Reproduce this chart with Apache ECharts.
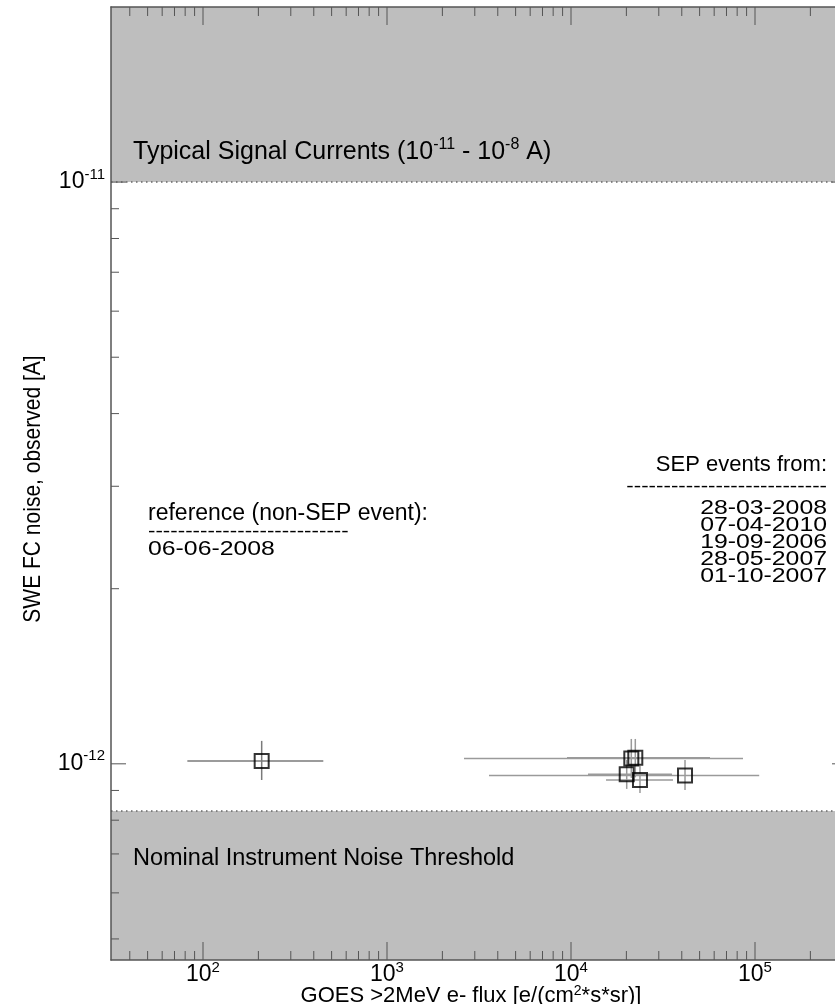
<!DOCTYPE html>
<html><head><meta charset="utf-8">
<script src="https://cdn.jsdelivr.net/npm/echarts@6/dist/echarts.min.js"></script>
<style>html,body{margin:0;padding:0;background:#fff;overflow:hidden}#c{width:870px;height:1004px}</style>
</head><body><div id="c"></div>
<script>
// ---- axis ranges & ticks ----
const xMin = Math.pow(10, 1.5), xMax = Math.pow(10, 5.5);
const yMin = 4.6e-13, yMax = 2e-11;
const xMajorTicks = [1e2, 1e3, 1e4, 1e5];
const xMinorTicks = [40,50,60,70,80,90, 200,300,400,500,600,700,800,900,
  2000,3000,4000,5000,6000,7000,8000,9000, 2e4,3e4,4e4,5e4,6e4,7e4,8e4,9e4, 2e5,3e5];
const yMajorTicks = [1e-12, 1e-11];
const yMinorTicks = [5e-13,6e-13,7e-13,8e-13,9e-13, 2e-12,3e-12,4e-12,5e-12,6e-12,7e-12,8e-12,9e-12];
// ---- shaded regions ----
const signalBand = [1e-11, 2e-11];
const noiseBand = [4.6e-13, 8.3e-13];
// ---- reference (non-SEP) point ----
const refDate = '06-06-2008';
const refFlux = [208.4], refNoise = [1.0115e-12];
const refFluxLo = [82.2], refFluxHi = [450.6];
const refNoiseLo = [9.38e-13], refNoiseHi = [1.095e-12];
// ---- SEP events ----
const sepDates = ['28-03-2008','07-04-2010','19-09-2006','28-05-2007','01-10-2007'];
const sepFlux = [21270, 22360, 20080, 23710, 41650];
const sepNoise = [1.0208e-12, 1.0248e-12, 9.597e-13, 9.383e-13, 9.544e-13];
const sepFluxLo = [2621, 9513, 12370, 15500, 3584];
const sepFluxHi = [86060, 56940, 35390, 35840, 105400];
const sepNoiseLo = [9.458e-13, 9.48e-13, 9.055e-13, 8.913e-13, 9.02e-13];
const sepNoiseHi = [1.1035e-12, 1.1035e-12, 1.0156e-12, 9.917e-13, 1.0156e-12];
// ---- titles ----
const xTitle = 'GOES >2MeV e- flux [e/(cm{s|2}*s*sr)]';
const yTitle = 'SWE FC noise, observed [A]';

const FONT = 'Liberation Sans, Arial, Helvetica, sans-serif';
const AX = '#555';

function supLabel(v) {
  const e = Math.log10(v);
  if (Math.abs(e - Math.round(e)) > 1e-6) return '';
  return '{b|10}{s|' + Math.round(e) + '}';
}
const labelRich = {
  b: {fontSize: 23, fontFamily: FONT, color: '#000', lineHeight: 30},
  s: {fontSize: 15, fontFamily: FONT, color: '#000', lineHeight: 14, verticalAlign: 'top'}
};

function xTickSeries(vals, len) {
  return {
    type: 'custom', z: 6, silent: true, xAxisIndex: 0, yAxisIndex: 0,
    data: vals.map(v => [v, yMin]), encode: {x: 0, y: 1},
    renderItem: (params, api) => {
      const cs = params.coordSys;
      const px = api.coord([api.value(0), yMin])[0];
      const st = {stroke: AX, lineWidth: 1};
      return {type: 'group', children: [
        {type: 'line', shape: {x1: px, y1: cs.y + cs.height, x2: px, y2: cs.y + cs.height - len}, style: st},
        {type: 'line', shape: {x1: px, y1: cs.y, x2: px, y2: cs.y + len}, style: st}
      ]};
    }
  };
}
function yTickSeries(vals, len) {
  return {
    type: 'custom', z: 6, silent: true, xAxisIndex: 0, yAxisIndex: 0,
    data: vals.map(v => [xMin, v]), encode: {x: 0, y: 1},
    renderItem: (params, api) => {
      const cs = params.coordSys;
      const py = api.coord([xMin, api.value(1)])[1];
      const st = {stroke: AX, lineWidth: 1};
      return {type: 'group', children: [
        {type: 'line', shape: {x1: cs.x, y1: py, x2: cs.x + len, y2: py}, style: st},
        {type: 'line', shape: {x1: cs.x + cs.width, y1: py, x2: cs.x + cs.width - len, y2: py}, style: st}
      ]};
    }
  };
}
function errSeries(x, y, xlo, xhi, ylo, yhi, color) {
  return {
    type: 'custom', z: 3, silent: true,
    data: x.map((v, i) => [v, y[i], xlo[i], xhi[i], ylo[i], yhi[i]]),
    encode: {x: 0, y: 1},
    renderItem: (params, api) => {
      const a = api.coord([api.value(2), api.value(1)]);
      const b = api.coord([api.value(3), api.value(1)]);
      const c = api.coord([api.value(0), api.value(4)]);
      const d = api.coord([api.value(0), api.value(5)]);
      const st = {stroke: color, lineWidth: 1.5};
      return {type: 'group', children: [
        {type: 'line', shape: {x1: a[0], y1: a[1], x2: b[0], y2: b[1]}, style: st},
        {type: 'line', shape: {x1: c[0], y1: c[1], x2: d[0], y2: d[1]}, style: st}
      ]};
    }
  };
}
const squareStyle = {color: 'rgba(0,0,0,0)', borderColor: '#000', borderWidth: 2};

const chart = echarts.init(document.getElementById('c'), null, {renderer: 'canvas'});
const option = {
  backgroundColor: '#fff',
  animation: false,
  grid: {left: 111, top: 7, width: 736, height: 953, containLabel: false, outerBoundsMode: 'none'},
  xAxis: [{
    type: 'log', logBase: 10, min: xMin, max: xMax, position: 'bottom', z: 10,
    axisLine: {show: true, lineStyle: {color: AX, width: 1.5}},
    axisTick: {show: false}, minorTick: {show: false}, splitLine: {show: false},
    axisLabel: {formatter: supLabel, rich: labelRich, margin: 0, showMinLabel: false, showMaxLabel: false}
  }, {
    type: 'log', logBase: 10, min: xMin, max: xMax, position: 'top', z: 10,
    axisLine: {show: true, lineStyle: {color: AX, width: 1.5}},
    axisTick: {show: false}, axisLabel: {show: false}, splitLine: {show: false}
  }],
  yAxis: [{
    type: 'log', logBase: 10, min: yMin, max: yMax, position: 'left', z: 10,
    axisLine: {show: true, lineStyle: {color: AX, width: 1.5}},
    axisTick: {show: false}, splitLine: {show: false},
    axisLabel: {formatter: supLabel, rich: labelRich, margin: 6, showMinLabel: false, showMaxLabel: false}
  }, {
    type: 'log', logBase: 10, min: yMin, max: yMax, position: 'right', z: 10,
    axisLine: {show: true, lineStyle: {color: AX, width: 1.5}},
    axisTick: {show: false}, axisLabel: {show: false}, splitLine: {show: false}
  }],
  series: [
    {
      type: 'custom', z: 1, silent: true,
      data: [[xMin, signalBand[0], signalBand[1]], [xMin, noiseBand[0], noiseBand[1]]],
      encode: {x: 0, y: [1, 2]},
      renderItem: (params, api) => {
        const cs = params.coordSys;
        const y1 = api.coord([xMin, api.value(1)])[1];
        const y2 = api.coord([xMin, api.value(2)])[1];
        return {type: 'rect', shape: {x: cs.x, y: Math.min(y1, y2), width: cs.width, height: Math.abs(y1 - y2)},
          style: {fill: '#bebebe'}};
      }
    },
    {
      type: 'custom', z: 2, silent: true,
      data: [[xMin, signalBand[0]], [xMin, noiseBand[1]]],
      encode: {x: 0, y: 1},
      renderItem: (params, api) => {
        const cs = params.coordSys;
        const py = api.coord([xMin, api.value(1)])[1];
        return {type: 'line', shape: {x1: cs.x, y1: py, x2: cs.x + cs.width, y2: py},
          style: {stroke: '#666', lineWidth: 1.5, lineDash: [1.5, 3.5]}};
      }
    },
    xTickSeries(xMajorTicks, 18),
    xTickSeries(xMinorTicks, 9),
    yTickSeries(yMajorTicks, 15),
    yTickSeries(yMinorTicks, 8),
    errSeries(refFlux, refNoise, refFluxLo, refFluxHi, refNoiseLo, refNoiseHi, '#7a7a7a'),
    errSeries(sepFlux, sepNoise, sepFluxLo, sepFluxHi, sepNoiseLo, sepNoiseHi, '#9a9a9a'),
    {type: 'scatter', z: 4, symbol: 'rect', symbolSize: 14, itemStyle: squareStyle, silent: true,
      data: refFlux.map((v, i) => [v, refNoise[i]])},
    {type: 'scatter', z: 4, symbol: 'rect', symbolSize: 14, itemStyle: squareStyle, silent: true,
      data: sepFlux.map((v, i) => [v, sepNoise[i]])}
  ],
  graphic: [
    {type: 'text', x: 471, y: 996, z: 20, silent: true,
      style: {text: '{b|' + xTitle.replace('{s|2}', '}{s|2}{b|') + '}', align: 'center', verticalAlign: 'middle',
        rich: {b: {fontSize: 22, fontFamily: FONT, fill: '#000', lineHeight: 24},
               s: {fontSize: 14, fontFamily: FONT, fill: '#000', lineHeight: 12, verticalAlign: 'top'}}}},
    {type: 'text', x: 33, y: 489, rotation: Math.PI / 2, scaleY: 1.18, z: 20, silent: true,
      style: {text: yTitle, align: 'center', verticalAlign: 'middle',
        fontSize: 21, fontFamily: FONT, fill: '#000'}},
    {type: 'text', x: 133, y: 152, z: 20, silent: true,
      style: {text: '{b|Typical Signal Currents (10}{s|-11}{b| - 10}{s|-8}{b| A)}', align: 'left', verticalAlign: 'middle',
        rich: {b: {fontSize: 25, fontFamily: FONT, fill: '#000', lineHeight: 30},
               s: {fontSize: 16, fontFamily: FONT, fill: '#000', lineHeight: 14, verticalAlign: 'top'}}}},
    {type: 'text', x: 133, y: 859, z: 20, silent: true,
      style: {text: 'Nominal Instrument Noise Threshold', align: 'left', verticalAlign: 'middle',
        fontSize: 23.5, fontFamily: FONT, fill: '#000'}},
    {type: 'text', x: 148, y: 514, z: 20, silent: true,
      style: {text: 'reference (non-SEP event):', align: 'left', verticalAlign: 'middle',
        fontSize: 23, fontFamily: FONT, fill: '#000'}},
    {type: 'text', x: 148, y: 532, scaleX: 1.24, z: 20, silent: true,
      style: {text: '---------------------------', align: 'left', verticalAlign: 'middle',
        fontSize: 18, fontFamily: FONT, fill: '#000'}},
    {type: 'text', x: 148, y: 549, scaleX: 1.24, z: 20, silent: true,
      style: {text: refDate, align: 'left', verticalAlign: 'middle',
        fontSize: 20, fontFamily: FONT, fill: '#000'}},
    {type: 'text', x: 827, y: 465, z: 20, silent: true,
      style: {text: 'SEP events from:', align: 'right', verticalAlign: 'middle',
        fontSize: 22, fontFamily: FONT, fill: '#000'}},
    {type: 'text', x: 827, y: 487, scaleX: 1.24, z: 20, silent: true,
      style: {text: '---------------------------', align: 'right', verticalAlign: 'middle',
        fontSize: 18, fontFamily: FONT, fill: '#000'}},
    {type: 'text', x: 827, y: 499.5, scaleX: 1.24, z: 20, silent: true,
      style: {text: sepDates.join('\n'), align: 'right', verticalAlign: 'top', lineHeight: 17.2,
        fontSize: 20, fontFamily: FONT, fill: '#000'}}
  ]
};
chart.setOption(option);
</script>
</body></html>
